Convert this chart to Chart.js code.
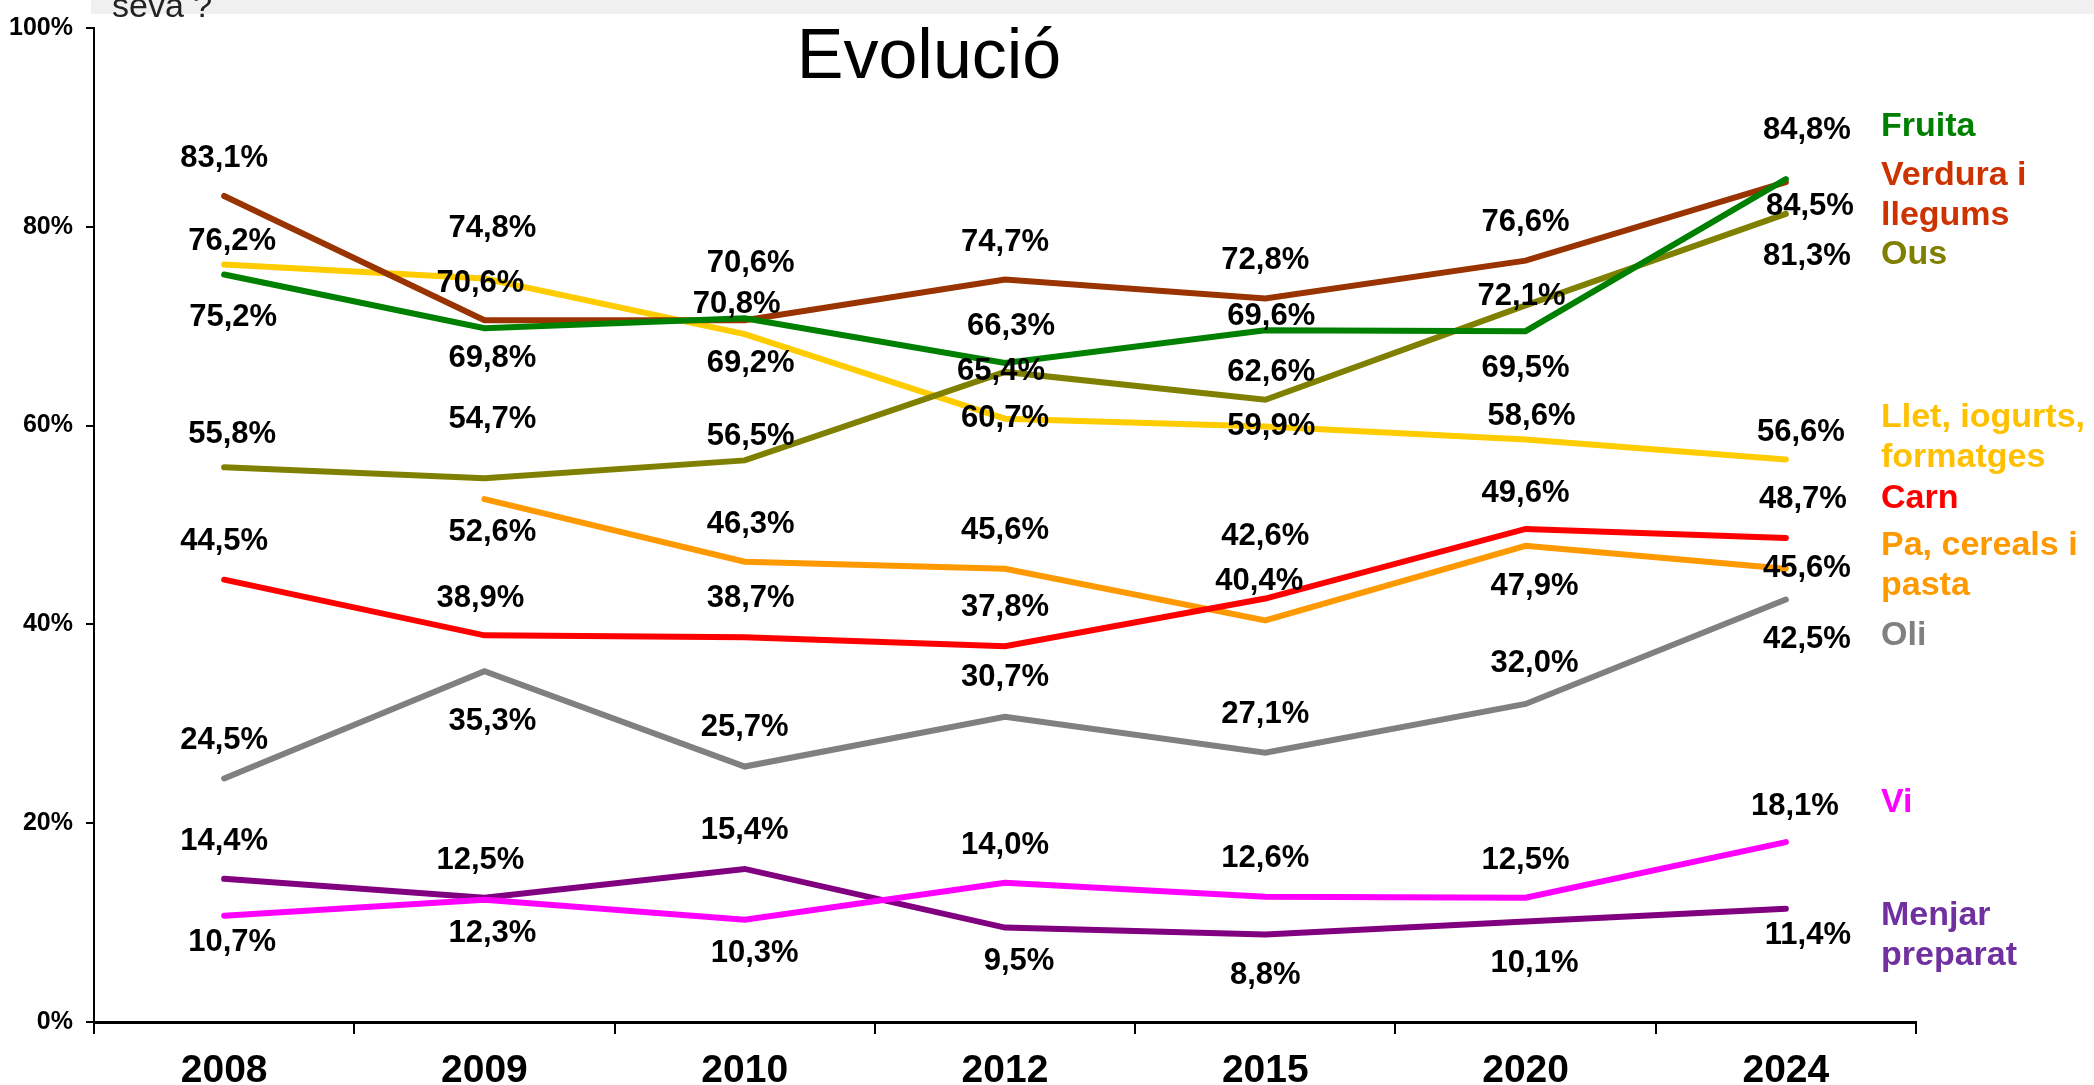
<!DOCTYPE html>
<html>
<head>
<meta charset="utf-8">
<style>
  html, body { margin: 0; padding: 0; background: #fff; }
</style>
<script src="https://cdn.jsdelivr.net/npm/chart.js@4.4.1/dist/chart.umd.min.js"></script>
</head>
<body>
<canvas id="evolucio" width="2094" height="1085"></canvas>
<script>
// Dades
const years = ['2008', '2009', '2010', '2012', '2015', '2020', '2024'];
const fruita  = [75.2, 69.8, 70.8, 66.3, 69.6, 69.5, 84.8];
const verdura = [83.1, 70.6, 70.6, 74.7, 72.8, 76.6, 84.5];
const ous     = [55.8, 54.7, 56.5, 65.4, 62.6, 72.1, 81.3];
const llet    = [76.2, 74.8, 69.2, 60.7, 59.9, 58.6, 56.6];
const carn    = [44.5, 38.9, 38.7, 37.8, 42.6, 49.6, 48.7];
const pa      = [null, 52.6, 46.3, 45.6, 40.4, 47.9, 45.6];
const oli     = [24.5, 35.3, 25.7, 30.7, 27.1, 32.0, 42.5];
const vi      = [10.7, 12.3, 10.3, 14.0, 12.6, 12.5, 18.1];
const menjar  = [14.4, 12.5, 15.4, 9.5, 8.8, 10.1, 11.4];
const yTicks  = [0, 20, 40, 60, 80, 100];

// desplaçament de les etiquetes [dx, dy] respecte al punt
const fruitaShift  = [[9, 43], [8, 30], [-8, -14], [6, -37], [6, -14], [0, 37], [21, -49]];
const verduraShift = [[0, -38], [-4, -37], [6, -57], [0, -37], [0, -38], [0, -38], [24, 24]];
const ousShift     = [[8, -33], [8, -59], [6, -24], [-4, 0], [6, -27], [-4, -9], [21, 43]];
const lletShift    = [[8, -23], [8, -50], [6, 29], [0, 0], [6, 0], [6, -23], [15, -27]];
const carnShift    = [[0, -38], [-4, -37], [6, -39], [0, -39], [0, -62], [0, -36], [17, -38]];
const paShift      = [[0, 0], [8, 33], [6, -37], [0, -38], [-6, -39], [9, 41], [21, 0]];
const oliShift     = [[0, -38], [8, 50], [0, -39], [0, -39], [0, -38], [9, -40], [21, 40]];
const viShift      = [[8, 27], [8, 34], [10, 34], [0, -37], [0, -38], [0, -37], [9, -36]];
const menjarShift  = [[0, -37], [-4, -37], [0, -38], [14, 34], [0, 41], [9, 42], [22, 27]];

const FONT = '"Liberation Sans", Arial, Helvetica, sans-serif';

const series = [
  { lines: ['Fruita'], data: fruita, color: '#008000', text: '#008000', legendY: 127, shift: fruitaShift },
  { lines: ['Verdura i', 'llegums'], data: verdura, color: '#993300', text: '#CC3300', legendY: 176, shift: verduraShift },
  { lines: ['Ous'], data: ous, color: '#808000', text: '#808000', legendY: 255, shift: ousShift },
  { lines: ['Llet, iogurts,', 'formatges'], data: llet, color: '#FFCC00', text: '#FFC000', legendY: 418, shift: lletShift },
  { lines: ['Carn'], data: carn, color: '#FF0000', text: '#FF0000', legendY: 499, shift: carnShift },
  { lines: ['Pa, cereals i', 'pasta'], data: pa, color: '#FF9900', text: '#FF9900', legendY: 546, shift: paShift },
  { lines: ['Oli'], data: oli, color: '#808080', text: '#808080', legendY: 636, shift: oliShift },
  { lines: ['Vi'], data: vi, color: '#FF00FF', text: '#FF00FF', legendY: 803, shift: viShift },
  { lines: ['Menjar', 'preparat'], data: menjar, color: '#800080', text: '#7030A0', legendY: 916, shift: menjarShift }
];

function pct(v) {
  return v.toFixed(1).replace('.', ',') + '%';
}

const decor = {
  id: 'decor',
  beforeDraw(chart) {
    const ctx = chart.ctx;
    ctx.save();
    ctx.fillStyle = '#fff';
    ctx.fillRect(0, 0, chart.width, chart.height);
    ctx.fillStyle = '#f0f0f0';
    ctx.fillRect(91, 0, chart.width - 91, 14);
    ctx.fillStyle = '#222';
    ctx.font = '34px ' + FONT;
    ctx.textAlign = 'left';
    ctx.textBaseline = 'alphabetic';
    ctx.fillText('seva ?', 112, 17);
    ctx.fillStyle = '#000';
    ctx.font = '70px ' + FONT;
    ctx.textAlign = 'center';
    ctx.fillText('Evolució', 929, 78);
    ctx.restore();
  },
  afterDatasetsDraw(chart) {
    const ctx = chart.ctx;
    ctx.save();
    ctx.font = 'bold 31px ' + FONT;
    ctx.textAlign = 'center';
    ctx.textBaseline = 'middle';
    ctx.fillStyle = '#000';
    series.forEach((s, di) => {
      const meta = chart.getDatasetMeta(di);
      meta.data.forEach((pt, i) => {
        const v = s.data[i];
        if (v === null) return;
        ctx.fillText(pct(v), pt.x + s.shift[i][0], pt.y + s.shift[i][1]);
      });
    });
    // llegenda a la dreta
    ctx.font = 'bold 34px ' + FONT;
    ctx.textAlign = 'left';
    series.forEach(s => {
      ctx.fillStyle = s.text;
      s.lines.forEach((t, k) => ctx.fillText(t, 1881, s.legendY + k * 40));
    });
    ctx.restore();
  }
};

new Chart(document.getElementById('evolucio'), {
  type: 'line',
  data: {
    labels: years,
    datasets: series.map(s => ({
      label: s.lines.join(' '),
      data: s.data,
      borderColor: s.color,
      backgroundColor: s.color,
      borderWidth: 6,
      borderCapStyle: 'round',
      borderJoinStyle: 'miter',
      pointRadius: 0,
      pointHoverRadius: 0,
      tension: 0,
      spanGaps: false
    }))
  },
  options: {
    responsive: false,
    animation: false,
    devicePixelRatio: 1,
    layout: { padding: { left: 0, top: 24, right: 178, bottom: 0 } },
    plugins: {
      legend: { display: false },
      tooltip: { enabled: false },
      title: { display: false }
    },
    scales: {
      x: {
        offset: true,
        grid: {
          offset: true,
          drawOnChartArea: false,
          tickLength: 12,
          color: '#000',
          lineWidth: 2
        },
        border: { color: '#000', width: 3 },
        ticks: {
          color: '#000',
          font: { family: FONT, size: 39, weight: 'bold' },
          padding: 14,
          maxRotation: 0
        },
        afterFit(scale) { scale.height = 63; }
      },
      y: {
        min: 0,
        max: 100,
        afterBuildTicks(scale) { scale.ticks = yTicks.map(v => ({ value: v })); },
        grid: {
          drawOnChartArea: false,
          tickLength: 8,
          color: '#000',
          lineWidth: 2
        },
        border: { color: '#000', width: 2 },
        ticks: {
          color: '#000',
          font: { family: FONT, size: 25, weight: 'bold' },
          padding: 13,
          callback: v => v + '%'
        },
        afterFit(scale) { scale.width = 94; }
      }
    }
  },
  plugins: [decor]
});
</script>
</body>
</html>
